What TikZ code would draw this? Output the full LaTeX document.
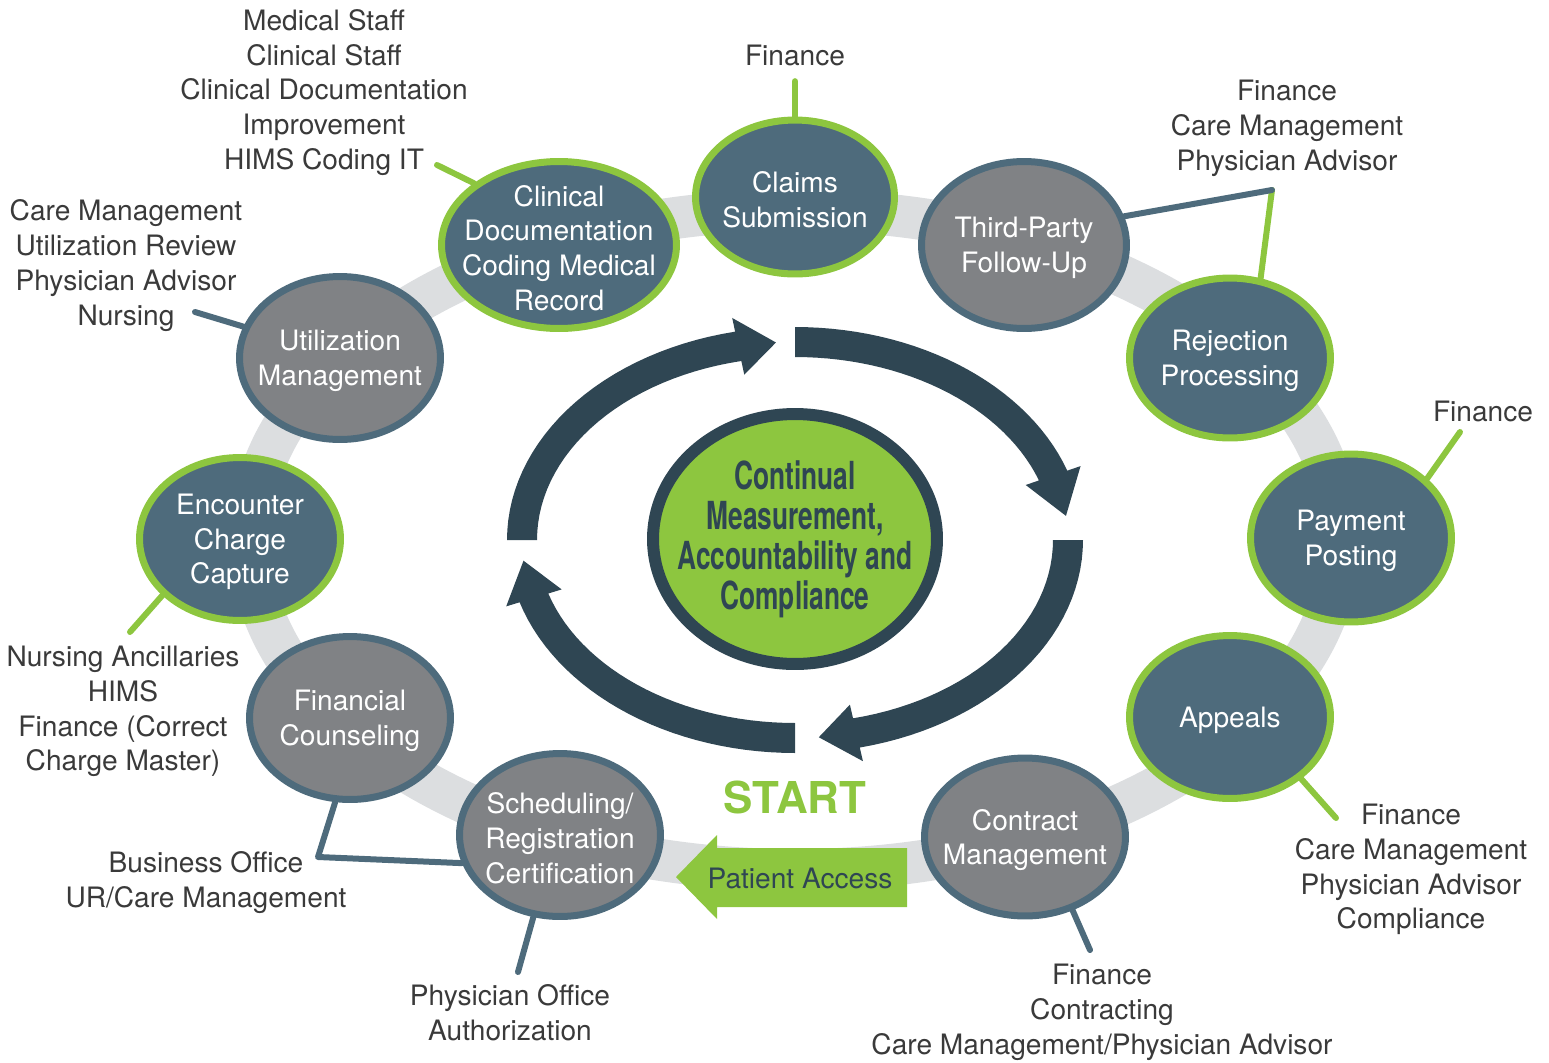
\documentclass[tikz,border=0pt]{standalone}
\usepackage{fontspec}
\setmainfont{TeX Gyre Heros}
\newfontfamily\hubfont[FakeStretch=0.68]{TeX Gyre Heros}
\usetikzlibrary{shapes.geometric,backgrounds}

\definecolor{leaf}{HTML}{8DC63F}
\definecolor{slate}{HTML}{4E6B7C}
\definecolor{stone}{HTML}{808285}
\definecolor{navy}{HTML}{2F4653}
\definecolor{mist}{HTML}{DCDEE0}
\definecolor{ink}{HTML}{3A3A3A}
\newcommand{\bodyfont}{\fontsize{16}{19.8}\selectfont}

\begin{document}
\begin{tikzpicture}[
                      x = 0.02cm,
                      y = -0.02cm,
          stage/.style = {ellipse, draw, line width=0.14cm, minimum width=4.02cm, minimum height=3.26cm, inner sep=0pt},
       keystage/.style = {stage, draw=leaf, fill=slate},
     plainstage/.style = {stage, draw=slate, fill=stone},
      stagetext/.style = {text=white, align=center, font=\bodyfont, inner sep=0pt, yshift=-0.06cm},
          staff/.style = {text=ink, align=center, font=\bodyfont, yshift=-0.05cm},
       leaflink/.style = {draw=leaf, line width=0.12cm, line cap=round, line join=round},
      slatelink/.style = {draw=slate, line width=0.12cm, line cap=round, line join=round},
                      ]
    \useasboundingbox (0,0) rectangle (1549,1062);

    % stages round the cycle
    \node[keystage, minimum width=4.7cm, minimum height=3.34cm] (clindoc) at (559,245) {};
    \node[stagetext] (clindoc-t) at (clindoc) {Clinical\\Documentation\\Coding Medical\\Record};
    \node[keystage, minimum width=3.98cm, minimum height=3.08cm] (claims) at (795,197) {};
    \node[stagetext] (claims-t) at (claims) {Claims\\Submission};
    \node[plainstage, minimum width=4.1cm, minimum height=3.34cm] (third) at (1024,245) {};
    \node[stagetext] (third-t) at (third) {Third-Party\\Follow-Up};
    \node[keystage, minimum height=3.2cm] (reject) at (1230,358) {};
    \node[stagetext] (reject-t) at (reject) {Rejection\\Processing};
    \node[keystage, minimum height=3.36cm] (payment) at (1351,538) {};
    \node[stagetext] (payment-t) at (payment) {Payment\\Posting};
    \node[keystage] (appeals) at (1230,717) {};
    \node[stagetext] (appeals-t) at (appeals) {Appeals};
    \node[plainstage, minimum height=3.16cm] (contract) at (1025,837) {};
    \node[stagetext] (contract-t) at (contract) {Contract\\Management};
    \node[plainstage] (sched) at (560,835) {};
    \node[stagetext] (sched-t) at (sched) {Scheduling/\\Registration\\Certification};
    \node[plainstage] (fincoun) at (350,718) {};
    \node[stagetext] (fincoun-t) at (fincoun) {Financial\\Counseling};
    \node[keystage] (encounter) at (240,539) {};
    \node[stagetext] (encounter-t) at (encounter) {Encounter\\Charge\\Capture};
    \node[plainstage] (utilize) at (340,358) {};
    \node[stagetext] (utilize-t) at (utilize) {Utilization\\Management};

    % hub
    \node[ellipse, draw=navy, fill=leaf, line width=0.24cm, minimum width=5.68cm, minimum height=5cm, inner sep=0pt] (hub) at (795,539) {};
    \node[text=navy, align=center, inner sep=0pt, font=\hubfont\bfseries\fontsize{22}{22.7}\selectfont] (hub-t) at (hub) {Continual\\Measurement,\\Accountability and\\Compliance};

    % cycle arrows
    \foreach \s/\b/\t in {270/341/353, 360/437/445, 450/523/534, 540/618/626}
        \fill[navy] plot[domain=\s:\b, samples=30] ({795+288*cos(\x)},{540+213*sin(\x)})
            -- ({795+302*cos(\b)},{540+227*sin(\b)})
            -- ({795+273*cos(\t)},{540+198*sin(\t)})
            -- ({795+244*cos(\b)},{540+169*sin(\b)})
            -- plot[domain=\b:\s, samples=30] ({795+258*cos(\x)},{540+183*sin(\x)}) -- cycle;

    % start and patient access
    \node[text=leaf, font=\fontsize{25}{25}\selectfont\bfseries] (start) at (795,797) {START};
    \fill[leaf] (907,848) -- (717,848) -- (717,835) -- (676,877) -- (717,919) -- (717,907) -- (907,907) -- cycle;
    \node[text=navy, font=\bodyfont] (access) at (800,878) {Patient Access};

    % who is involved
    \node[staff] (medstaff) at (324,90) {Medical Staff\\Clinical Staff\\Clinical Documentation\\Improvement\\HIMS Coding IT};
    \node[staff] (fintop) at (795,53) {Finance};
    \node[staff] (tpstaff) at (1287,126) {Finance\\Care Management\\Physician Advisor};
    \node[staff] (urstaff) at (126,263) {Care Management\\Utilization Review\\Physician Advisor\\Nursing};
    \node[staff] (finpost) at (1483,409) {Finance};
    \node[staff] (nurstaff) at (123,709) {Nursing Ancillaries\\HIMS\\Finance (Correct\\Charge Master)};
    \node[staff] (bostaff) at (206,880) {Business Office\\UR/Care Management};
    \node[staff] (phystaff) at (510,1010) {Physician Office\\Authorization};
    \node[staff] (apstaff) at (1411,867) {Finance\\Care Management\\Physician Advisor\\Compliance};
    \node[staff] (ctstaff) at (1102,1010) {Finance\\Contracting\\Care Management/Physician Advisor};

    \coordinate (medtip) at (437,165);
    \coordinate (tpbend) at (1272,190);
    \coordinate (posttip) at (1460,432);
    \coordinate (urtip) at (195,312);
    \coordinate (nurtip) at (130,632);
    \coordinate (aptip) at (1336,818);
    \coordinate (cttip) at (1090,950);
    \coordinate (bobend) at (318,857);
    \coordinate (phytip) at (518,972);

    \begin{scope}[on background layer]
        \draw[mist, line width=0.84cm] (795,540) ellipse [x radius=545, y radius=330];
        \draw[leaflink] (medtip) -- (clindoc.144);
        \draw[leaflink, shorten <=0.18cm] (fintop.south) -- (claims.north);
        \draw[leaflink] (tpbend) -- (reject.69);
        \draw[slatelink] (third.16) -- (tpbend);
        \draw[leaflink] (posttip) -- (payment.38);
        \draw[slatelink] (urtip) -- (utilize.162);
        \draw[leaflink] (nurtip) -- (encounter.216);
        \draw[leaflink] (aptip) -- (appeals.319);
        \draw[slatelink] (cttip) -- (contract.303);
        \draw[slatelink] (fincoun.260) -- (bobend) -- (sched.196);
        \draw[slatelink] (phytip) -- (sched.252);
    \end{scope}
\end{tikzpicture}
\end{document}
